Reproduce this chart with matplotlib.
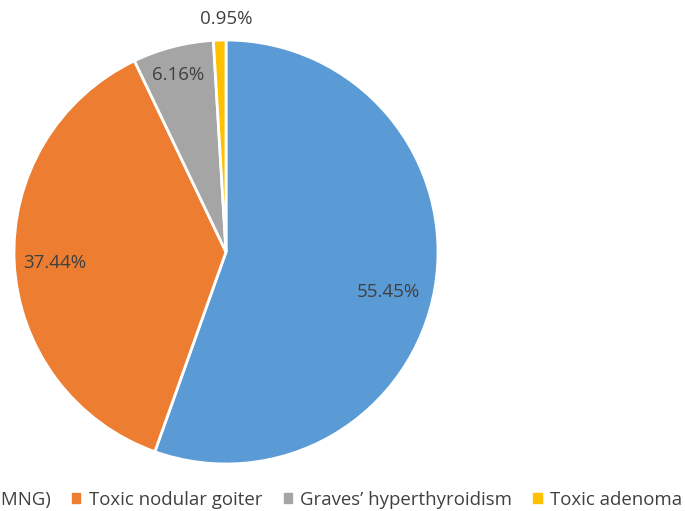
import matplotlib
matplotlib.use("Agg")
import matplotlib.pyplot as plt
import numpy as np

categories = ["Toxic multinodular goiter (MNG)", "Toxic nodular goiter",
              "Graves\u2019 hyperthyroidism", "Toxic adenoma"]
values = [55.45, 37.44, 6.16, 0.95]
colors = ["#5B9BD5", "#ED7D31", "#A5A5A5", "#FFC000"]
label_radius = [0.79, 0.81, 0.865, 1.10]
label_angle_shift = [-4, 0.7, 0.7, -1.7]

W, H = 685, 511
fig = plt.figure(figsize=(W/100, H/100), dpi=100)
cx, cy, r = 226, 259, 212
ax = fig.add_axes([(cx-r)/W, (cy-r)/H, 2*r/W, 2*r/H])
wedges, _ = ax.pie(values, colors=colors, startangle=90, counterclock=False,
                   wedgeprops=dict(edgecolor="white", linewidth=2))
ax.set_xlim(-1, 1); ax.set_ylim(-1, 1)
ax.set_aspect("equal")
ax.axis("off")
for w, v, rr, da in zip(wedges, values, label_radius, label_angle_shift):
    ang = np.deg2rad((w.theta1 + w.theta2) / 2 + da)
    ax.text(rr*np.cos(ang), rr*np.sin(ang), f"{v:.2f}%", ha="center", va="center",
            fontsize=13.5, color="#404040", family="Open Sans", clip_on=False)

handles = [plt.Rectangle((0, 0), 1, 1, color=c) for c in colors]
leg = fig.legend(handles, categories, loc="center right", bbox_to_anchor=(682/W, 1-500/H),
                 ncol=4, frameon=False, handlelength=0.43, handleheight=0.43,
                 handletextpad=0.45, columnspacing=1.15, borderpad=0, borderaxespad=0,
                 prop=dict(family="Open Sans", size=13.4))
for t in leg.get_texts():
    t.set_color("#404040")
fig.savefig("out.png", dpi=100)
